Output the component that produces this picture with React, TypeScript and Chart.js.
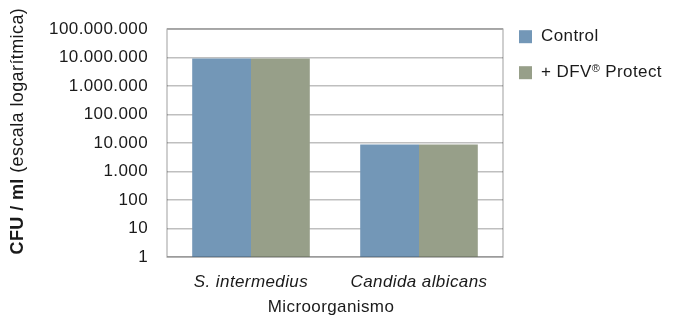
import React, { useEffect, useRef } from 'react';
import { Chart, registerables } from 'chart.js';

Chart.register(...registerables);

const categories = ['S. intermedius', 'Candida albicans'];
const seriesNames = ['Control', '+ DFV', '®', ' Protect'];
const controlValues = [9300000, 9000];
const dfvValues = [9300000, 9000];
const yTickValues = [1, 10, 100, 1000, 10000, 100000, 1000000, 10000000, 100000000];
const yTickLabels = ['1', '10', '100', '1.000', '10.000', '100.000', '1.000.000', '10.000.000', '100.000.000'];
const xAxisTitle = 'Microorganismo';
const yTitleBold = 'CFU / ml';
const yTitleRest = ' (escala logarítmica)';

const COLORS = ['#7397b7', '#979f89'];
const FONT = '"Liberation Sans", Arial, Helvetica, sans-serif';
const GRID = 'rgba(0,0,0,0.25)';
const TEXT = '#1a1a1a';
const SPACING = '0.4px';

const decor = {
  id: 'decor',
  beforeDraw(chart: any) {
    chart.ctx.letterSpacing = SPACING;
  },
  afterDraw(chart: any) {
    const { ctx, chartArea: a } = chart;
    ctx.save();
    ctx.letterSpacing = SPACING;
    // plot border
    ctx.strokeStyle = GRID;
    ctx.lineWidth = 1.5;
    ctx.strokeRect(a.left, a.top, a.right - a.left, a.bottom - a.top);

    // legend
    const lx = a.right + 16;
    const rows = [a.top + 7.5, a.top + 43.5];
    ctx.textBaseline = 'middle';
    ctx.textAlign = 'left';
    rows.forEach((cy, i) => {
      ctx.fillStyle = COLORS[i];
      ctx.fillRect(lx, cy - 6.5, 13, 13);
    });
    ctx.fillStyle = TEXT;
    ctx.font = `17px ${FONT}`;
    ctx.fillText(seriesNames[0], lx + 22, rows[0]);
    let tx = lx + 22;
    ctx.fillText(seriesNames[1], tx, rows[1]);
    tx += ctx.measureText(seriesNames[1]).width;
    ctx.font = `11px ${FONT}`;
    ctx.fillText(seriesNames[2], tx, rows[1] - 4);
    tx += ctx.measureText(seriesNames[2]).width;
    ctx.font = `17px ${FONT}`;
    ctx.fillText(seriesNames[3], tx, rows[1]);

    // x axis title
    ctx.textAlign = 'center';
    ctx.font = `17px ${FONT}`;
    ctx.fillText(xAxisTitle, (a.left + a.right) / 2 - 4, a.bottom + 50);

    // y axis title (mixed weights)
    ctx.translate(18, (a.top + a.bottom) / 2 - 12);
    ctx.rotate(-Math.PI / 2);
    ctx.font = `bold 18px ${FONT}`;
    const wb = ctx.measureText(yTitleBold).width;
    ctx.font = `18px ${FONT}`;
    const wr = ctx.measureText(yTitleRest).width;
    const start = -(wb + wr) / 2;
    ctx.textAlign = 'left';
    ctx.font = `bold 18px ${FONT}`;
    ctx.fillText(yTitleBold, start, 0);
    ctx.font = `18px ${FONT}`;
    ctx.fillText(yTitleRest, start + wb, 0);
    ctx.restore();
  },
};

export default function App() {
  const ref = useRef<HTMLCanvasElement>(null);
  useEffect(() => {
    const chart = new Chart(ref.current as HTMLCanvasElement, {
      type: 'bar',
      data: {
        labels: categories,
        datasets: [
          { label: seriesNames[0], data: controlValues, backgroundColor: COLORS[0], borderWidth: 0 },
          { label: seriesNames[1] + seriesNames[2] + seriesNames[3], data: dfvValues, backgroundColor: COLORS[1], borderWidth: 0 },
        ],
      },
      options: {
        responsive: false,
        animation: false,
        layout: { padding: { top: 28, right: 178, left: 0, bottom: 0 } },
        plugins: { legend: { display: false }, tooltip: { enabled: false } },
        datasets: { bar: { categoryPercentage: 0.7, barPercentage: 1 } },
        scales: {
          x: {
            grid: { display: false },
            border: { display: false },
            ticks: { font: { family: FONT, size: 17, style: 'italic' }, color: TEXT, padding: 7 },
            afterFit: (s: any) => { s.height = 59; },
          },
          y: {
            type: 'logarithmic',
            min: 1,
            max: 100000000,
            z: 1,
            grid: { color: GRID, lineWidth: 1.5, drawTicks: false },
            border: { display: false },
            ticks: {
              font: { family: FONT, size: 17 },
              color: TEXT,
              padding: 19,
              autoSkip: false,
              callback: (v: any) => {
                const i = yTickValues.indexOf(Number(v));
                return i >= 0 ? yTickLabels[i] : '';
              },
            },
            afterBuildTicks: (s: any) => { s.ticks = yTickValues.map((v) => ({ value: v })); },
            afterFit: (s: any) => { s.width = 167; },
          },
        },
      } as any,
      plugins: [decor],
    });
    return () => chart.destroy();
  }, []);
  return (
    <div style={{ position: 'fixed', left: 0, top: 0, width: 681, height: 316, background: '#fff' }}>
      <canvas ref={ref} width={681} height={316} style={{ display: 'block' }} />
    </div>
  );
}
